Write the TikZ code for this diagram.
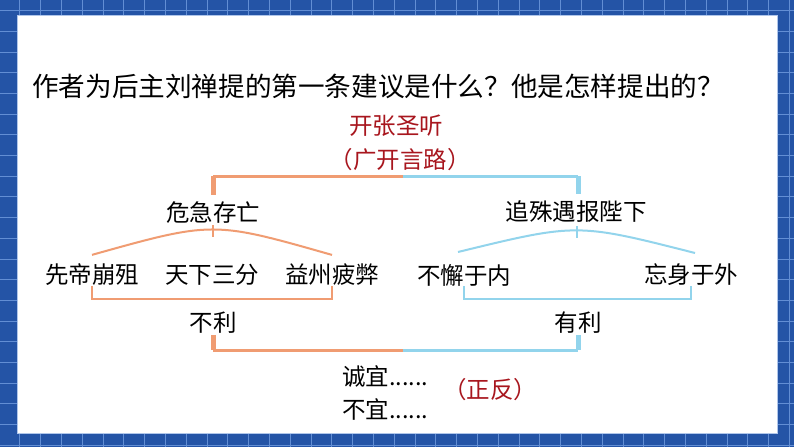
\documentclass[tikz,border=0pt]{standalone}
\usepackage{fontspec}
\setmainfont{Noto Sans CJK SC}
\definecolor{frameblue}{RGB}{36,84,166}
\definecolor{gridblue}{RGB}{98,142,212}
\definecolor{linkorange}{RGB}{240,156,114}
\definecolor{linkblue}{RGB}{146,212,236}
\definecolor{keyred}{RGB}{168,22,30}
\tikzset{
  txt/.style={inner sep=0pt, font=\fontsize{23.5}{26}\selectfont},
  keytxt/.style={txt, text=keyred},
  orangeline/.style={draw=linkorange, line width=3pt},
  blueline/.style={draw=linkblue, line width=3pt},
  thinorange/.style={draw=linkorange, line width=2pt},
  thinblue/.style={draw=linkblue, line width=2pt},
  stub/.style={line width=5pt},
}
\begin{document}
\begin{tikzpicture}[x=1pt,y=-1pt]
\useasboundingbox (0,0) rectangle (794,447);
% frame
\fill[frameblue] (0,0) rectangle (794,447);
\foreach \x in {-1,19.8,...,800}
  \draw[gridblue, line width=0.8pt] (\x,0) -- (\x,447);
\foreach \y in {10.5,31.2,...,450}
  \draw[gridblue, line width=0.8pt] (0,\y) -- (794,\y);
\fill[white] (17,15) rectangle (777,433);
\draw[gridblue!50, line width=1pt] (17,15) rectangle (777,433);
% question
\node[txt, anchor=west, font=\fontsize{26.6}{30}\selectfont] (question) at (32,86) {作者为后主刘禅提的第一条建议是什么？他是怎样提出的？};
\node[keytxt] (kaizhang) at (396,126) {开张圣听};
\node[keytxt] (guangkai) at (400,160) {（广开言路）};
% branches
\node[txt] (weiji) at (213,213) {危急存亡};
\node[txt] (zhuishu) at (576,212) {追殊遇报陛下};
\node[txt] (xiandi) at (92,275) {先帝崩殂};
\node[txt] (tianxia) at (212,275) {天下三分};
\node[txt] (yizhou) at (332,275) {益州疲弊};
\node[txt] (buxie) at (464,275) {不懈于内};
\node[txt] (wangshen) at (691,275) {忘身于外};
\node[txt] (buli) at (213,323) {不利};
\node[txt] (youli) at (578,323) {有利};
\node[txt, anchor=west] (chengyi) at (342,377) {诚宜......};
\node[txt, anchor=west] (buyi) at (342,409) {不宜......};
\node[keytxt, anchor=west] (zhengfan) at (443,390) {（正反）};
% top bracket
\coordinate (topsplit) at (403,176);
\draw[orangeline] (topsplit) -- (topsplit -| weiji);
\draw[orangeline, stub] (topsplit -| weiji) -- ([yshift=7pt]weiji.north);
\draw[blueline] (topsplit) -- (topsplit -| zhuishu.center) -- ++(2,0);
\draw[blueline, stub] ([xshift=2pt]topsplit -| zhuishu.center) -- ([xshift=2pt,yshift=7pt]zhuishu.north);
% left arc
\coordinate (leftpeak) at (213,237);
\draw[thinorange] ([yshift=-1pt]weiji.south) -- (leftpeak);
\draw[thinorange] ([yshift=9pt]xiandi.north) .. controls (213,221) .. ([yshift=9pt]yizhou.north);
\draw[thinorange] (xiandi.south) -- ++(0,13) -| (yizhou.south);
% right arc
\coordinate (rightpeak) at (577,238);
\draw[thinblue] ([xshift=1pt,yshift=-3pt]zhuishu.south) -- (rightpeak);
\draw[thinblue] (458,252) .. controls (577,223) .. (695,253);
\draw[thinblue] (buxie.south) -- ++(0,13) -| (wangshen.south);
% bottom bracket
\coordinate (botsplit) at (403,350);
\draw[orangeline, stub] ([yshift=-1pt]buli.south) -- (botsplit -| buli);
\draw[orangeline] (botsplit -| buli) -- (botsplit);
\draw[blueline] (botsplit) -- (botsplit -| youli);
\draw[blueline, stub] (botsplit -| youli) -- ([yshift=-1pt]youli.south);
\end{tikzpicture}
\end{document}
